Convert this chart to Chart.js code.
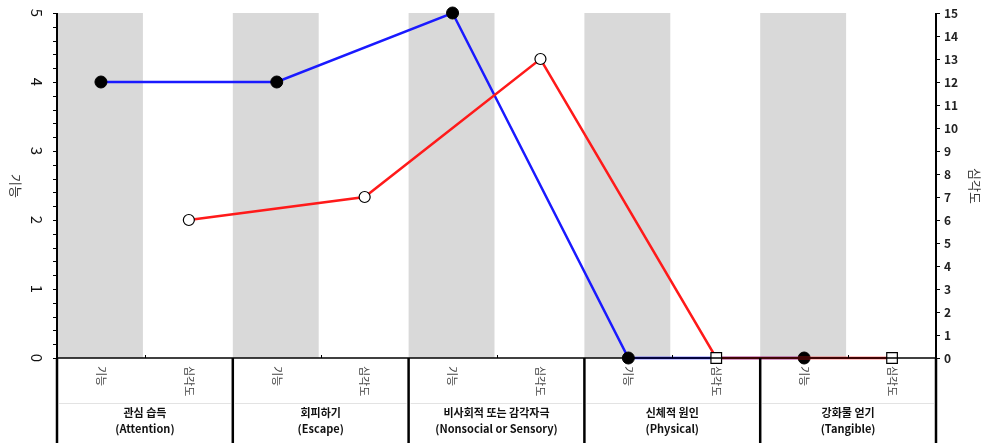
<!DOCTYPE html>
<html>
<head>
<meta charset="utf-8">
<script src="https://cdn.jsdelivr.net/npm/chart.js@4"></script>
<style>
  html, body { margin: 0; padding: 0; background: #fff; }
  #wrap { width: 987px; height: 443px; }
</style>
</head>
<body>
<div id="wrap"><canvas id="chart" width="987" height="443"></canvas></div>
<script>
// slot labels under the axis, two per group
const slotLabels = ['기능', '심각도', '기능', '심각도', '기능', '심각도', '기능', '심각도', '기능', '심각도']
const groupNames = ['관심 습득', '회피하기', '비사회적 또는 감각자극', '신체적 원인', '강화물 얻기']
const groupNamesEn = ['(Attention)', '(Escape)', '(Nonsocial or Sensory)', '(Physical)', '(Tangible)']

// values per group
const funcValues = [4, 4, 5, 0, 0]          // left axis (기능)
const severityValues = [6, 7, 13, 0, 0]     // right axis (심각도)
const severityStyles = ['circle', 'circle', 'circle', 'rect', 'rect']

const leftTicks = [0, 1, 2, 3, 4, 5]
const rightTicks = [0, 1, 2, 3, 4, 5, 6, 7, 8, 9, 10, 11, 12, 13, 14, 15]

const FONT = '"Noto Sans CJK KR", "Noto Sans", sans-serif'

// put function values in the even slots, severity in the odd ones
const funcData = slotLabels.map((_, i) => i % 2 === 0 ? funcValues[i / 2] : null)
const sevData = slotLabels.map((_, i) => i % 2 === 1 ? severityValues[(i - 1) / 2] : null)
const sevPointStyle = slotLabels.map((_, i) => i % 2 === 1 ? severityStyles[(i - 1) / 2] : 'circle')

const decorPlugin = {
  id: 'decor',
  beforeDatasetsDraw(chart) {
    const { ctx, chartArea, scales } = chart
    const x = scales.x
    const half = (x.getPixelForValue(1) - x.getPixelForValue(0)) / 2
    ctx.save()
    ctx.fillStyle = '#d9d9d9'
    for (let i = 0; i < slotLabels.length; i += 2) {
      const cx = x.getPixelForValue(i)
      ctx.fillRect(cx - half, chartArea.top, half * 2 - 2, chartArea.bottom - chartArea.top)
    }
    ctx.restore()
  },
  afterDraw(chart) {
    const { ctx, chartArea, scales } = chart
    const x = scales.x, y = scales.y, y1 = scales.y1
    const half = (x.getPixelForValue(1) - x.getPixelForValue(0)) / 2
    const bottom = chart.height
    ctx.save()

    // left axis ticks (minor every 0.2)
    ctx.strokeStyle = '#000'
    ctx.lineWidth = 1
    for (let v = 0; v <= 25; v++) {
      const py = Math.round(y.getPixelForValue(v / 5)) + 0.5
      ctx.beginPath()
      ctx.moveTo(chartArea.left - 4, py)
      ctx.lineTo(chartArea.left, py)
      ctx.stroke()
    }
    // left tick labels, rotated
    ctx.fillStyle = '#111'
    ctx.font = '15px ' + FONT
    ctx.textAlign = 'center'
    ctx.textBaseline = 'middle'
    leftTicks.forEach(v => {
      ctx.save()
      ctx.translate(37, y.getPixelForValue(v))
      ctx.rotate(Math.PI / 2)
      ctx.fillText(String(v), 0, 0)
      ctx.restore()
    })
    // left title
    ctx.save()
    ctx.translate(16, 186)
    ctx.rotate(Math.PI / 2)
    ctx.font = '13px ' + FONT
    ctx.fillStyle = '#333'
    ctx.fillText('기능', 0, 0)
    ctx.restore()

    // right axis ticks and labels
    ctx.font = 'bold 12px ' + FONT
    ctx.textAlign = 'left'
    ctx.fillStyle = '#222'
    rightTicks.forEach(v => {
      const py = Math.round(y1.getPixelForValue(v)) + 0.5
      ctx.beginPath()
      ctx.moveTo(chartArea.right, py)
      ctx.lineTo(chartArea.right + 4, py)
      ctx.stroke()
      ctx.fillText(String(v), chartArea.right + 8, py)
    })
    ctx.save()
    ctx.translate(975, 186)
    ctx.rotate(Math.PI / 2)
    ctx.textAlign = 'center'
    ctx.font = '13px ' + FONT
    ctx.fillStyle = '#333'
    ctx.fillText('심각도', 0, 0)
    ctx.restore()

    // x axis line
    ctx.lineWidth = 1.5
    ctx.beginPath()
    ctx.moveTo(chartArea.left, chartArea.bottom)
    ctx.lineTo(chartArea.right, chartArea.bottom)
    ctx.stroke()

    // small ticks between slots inside a group
    ctx.lineWidth = 1
    for (let i = 1; i < slotLabels.length; i += 2) {
      const bx = Math.round(x.getPixelForValue(i) - half) + 0.5
      ctx.beginPath()
      ctx.moveTo(bx, chartArea.bottom - 3)
      ctx.lineTo(bx, chartArea.bottom)
      ctx.stroke()
    }

    // slot labels, rotated
    ctx.font = '11px ' + FONT
    ctx.fillStyle = '#444'
    ctx.textAlign = 'left'
    ctx.textBaseline = 'middle'
    slotLabels.forEach((lab, i) => {
      ctx.save()
      ctx.translate(x.getPixelForValue(i), chartArea.bottom + 8)
      ctx.rotate(Math.PI / 2)
      ctx.fillText(lab, 0, 0)
      ctx.restore()
    })

    // group labels and separators
    ctx.textAlign = 'center'
    groupNames.forEach((name, g) => {
      const left = x.getPixelForValue(g * 2) - half
      const right = x.getPixelForValue(g * 2 + 1) + half
      ctx.strokeStyle = '#e3e3e3'
      ctx.lineWidth = 1
      ctx.beginPath()
      ctx.moveTo(left + 2, 403.5)
      ctx.lineTo(right - 2, 403.5)
      ctx.stroke()
      ctx.fillStyle = '#111'
      ctx.font = 'bold 11px ' + FONT
      ctx.fillText(name, (left + right) / 2, 413)
      ctx.fillText(groupNamesEn[g], (left + right) / 2, 429)
    })
    ctx.strokeStyle = '#000'
    ctx.lineWidth = 2.5
    for (let g = 0; g <= groupNames.length; g++) {
      const bx = g < groupNames.length ? x.getPixelForValue(g * 2) - half : chartArea.right
      ctx.beginPath()
      ctx.moveTo(bx, chartArea.bottom)
      ctx.lineTo(bx, bottom)
      ctx.stroke()
    }
    // vertical axis lines
    ctx.lineWidth = 2
    ctx.beginPath()
    ctx.moveTo(chartArea.left, chartArea.top)
    ctx.lineTo(chartArea.left, chartArea.bottom)
    ctx.moveTo(chartArea.right, chartArea.top)
    ctx.lineTo(chartArea.right, chartArea.bottom)
    ctx.stroke()
    ctx.restore()
  }
}

new Chart(document.getElementById('chart'), {
  type: 'line',
  data: {
    labels: slotLabels,
    datasets: [
      {
        label: '심각도',
        data: sevData,
        yAxisID: 'y1',
        borderColor: '#ff1a1a',
        borderWidth: 2.5,
        spanGaps: true,
        pointStyle: sevPointStyle,
        pointRadius: sevPointStyle.map(s => s === 'rect' ? 7.5 : 5.5),
        pointBackgroundColor: '#fff',
        pointBorderColor: '#000',
        pointBorderWidth: 1.2,
        clip: false,
        order: 0
      },
      {
        label: '기능',
        data: funcData,
        yAxisID: 'y',
        borderColor: '#1a1aff',
        borderWidth: 2.5,
        spanGaps: true,
        pointRadius: 6,
        pointBackgroundColor: '#000',
        pointBorderColor: '#000',
        pointBorderWidth: 1,
        clip: false,
        order: 1
      }
    ]
  },
  options: {
    responsive: false,
    animation: false,
    layout: { padding: { top: 13, left: 0, right: 0, bottom: 0 } },
    plugins: { legend: { display: false }, tooltip: { enabled: false } },
    scales: {
      x: {
        offset: true,
        grid: { display: false },
        border: { display: false },
        ticks: { display: false },
        afterFit(scale) { scale.height = 85 }
      },
      y: {
        position: 'left',
        min: 0,
        max: 5,
        grid: { display: false },
        border: { display: false },
        ticks: { display: false, stepSize: 1 },
        afterFit(scale) { scale.width = 57 }
      },
      y1: {
        position: 'right',
        min: 0,
        max: 15,
        grid: { display: false },
        border: { display: false },
        ticks: { display: false, stepSize: 1 },
        afterFit(scale) { scale.width = 51 }
      }
    }
  },
  plugins: [decorPlugin]
})
</script>
</body>
</html>
